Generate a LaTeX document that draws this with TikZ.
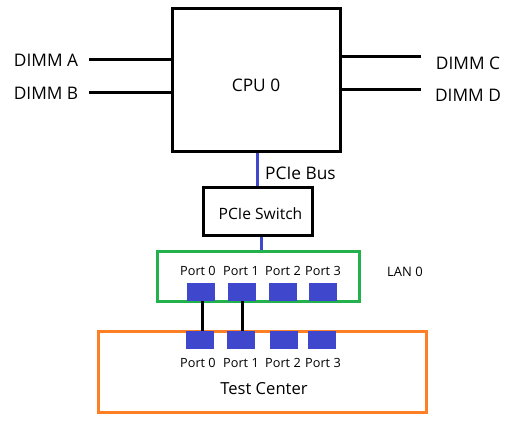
\documentclass[tikz,border=0pt]{standalone}
\usepackage{fontspec}
\setmainfont{Open Sans}
\definecolor{busblue}{RGB}{63,72,204}
\definecolor{langreen}{RGB}{34,177,76}
\definecolor{tcorange}{RGB}{255,127,39}
\tikzset{
  box/.style={draw=black, line width=3pt, rectangle, inner sep=0pt},
  port/.style={fill=busblue, rectangle, minimum width=28pt, minimum height=18pt, inner sep=0pt},
  plabel/.style={font=\fontsize{12.7}{15}\selectfont, inner sep=0pt},
  blabel/.style={font=\fontsize{17.3}{20}\selectfont, inner sep=0pt},
  wire/.style={line width=3pt, black},
  bus/.style={line width=3pt, busblue}
}
\begin{document}
\begin{tikzpicture}[x=1pt,y=-1pt]
\useasboundingbox (0,0) rectangle (530,430);
% CPU
\node[box, minimum width=168pt, minimum height=143pt] (cpu) at (256,80.5) {};
\node[blabel] (cpulbl) at (256,85) {CPU 0};
% DIMMs
\node[blabel] (dimmA) at (46,60) {DIMM A};
\node[blabel] (dimmB) at (46,93) {DIMM B};
\node[blabel] (dimmC) at (468,63) {DIMM C};
\node[blabel] (dimmD) at (468,95) {DIMM D};
\coordinate (ea) at (89,60);
\coordinate (eb) at (89,93);
\coordinate (ec) at (421,57);
\coordinate (ed) at (421,90);
\draw[wire] (ea) -- (cpu.west |- ea);
\draw[wire] (eb) -- (cpu.west |- eb);
\draw[wire] (ec) -- (cpu.east |- ec);
\draw[wire] (ed) -- (cpu.east |- ed);
% PCIe switch
\node[box, minimum width=109pt, minimum height=48pt] (sw) at (257.5,212) {};
\node[font=\fontsize{15.6}{18}\selectfont, inner sep=0pt] (swlbl) at (260.5,214) {PCIe Switch};
\draw[bus] (cpu.south -| 257,0) -- (sw.north -| 257,0);
\node[blabel, anchor=west] (buslbl) at (265,173) {PCIe Bus};
% LAN
\node[draw=langreen, line width=3pt, rectangle, minimum width=202pt, minimum height=50pt, inner sep=0pt] (lan) at (258,277) {};
\draw[bus] (sw.south -| 261,0) -- (lan.north -| 261,0);
\node[font=\fontsize{13}{15}\selectfont, inner sep=0pt] (lanlbl) at (405,272) {LAN 0};
\node[port] (p0) at (201,292) {};
\node[port] (p1) at (242,292) {};
\node[port] (p2) at (283,292) {};
\node[port] (p3) at (323,292) {};
\node[plabel] (lp0) at (198,271) {Port 0};
\node[plabel] (lp1) at (241,271) {Port 1};
\node[plabel] (lp2) at (283,271) {Port 2};
\node[plabel] (lp3) at (323,271) {Port 3};
% Test center
\node[draw=tcorange, line width=3pt, rectangle, minimum width=328pt, minimum height=81pt, inner sep=0pt] (tc) at (262,371.5) {};
\node[port] (q0) at (200,340) {};
\node[port] (q1) at (241,340) {};
\node[port] (q2) at (284,340) {};
\node[port] (q3) at (322,340) {};
\node[plabel] (lq0) at (198,363) {Port 0};
\node[plabel] (lq1) at (241,363) {Port 1};
\node[plabel] (lq2) at (283,363) {Port 2};
\node[plabel] (lq3) at (323,363) {Port 3};
\node[font=\fontsize{16.6}{19}\selectfont, inner sep=0pt] (tclbl) at (264,389) {Test Center};
% links
\draw[wire] (p0.south -| 202,0) -- (q0.north -| 202,0);
\draw[wire] (p1.south -| 242,0) -- (q1.north -| 242,0);
\end{tikzpicture}
\end{document}
